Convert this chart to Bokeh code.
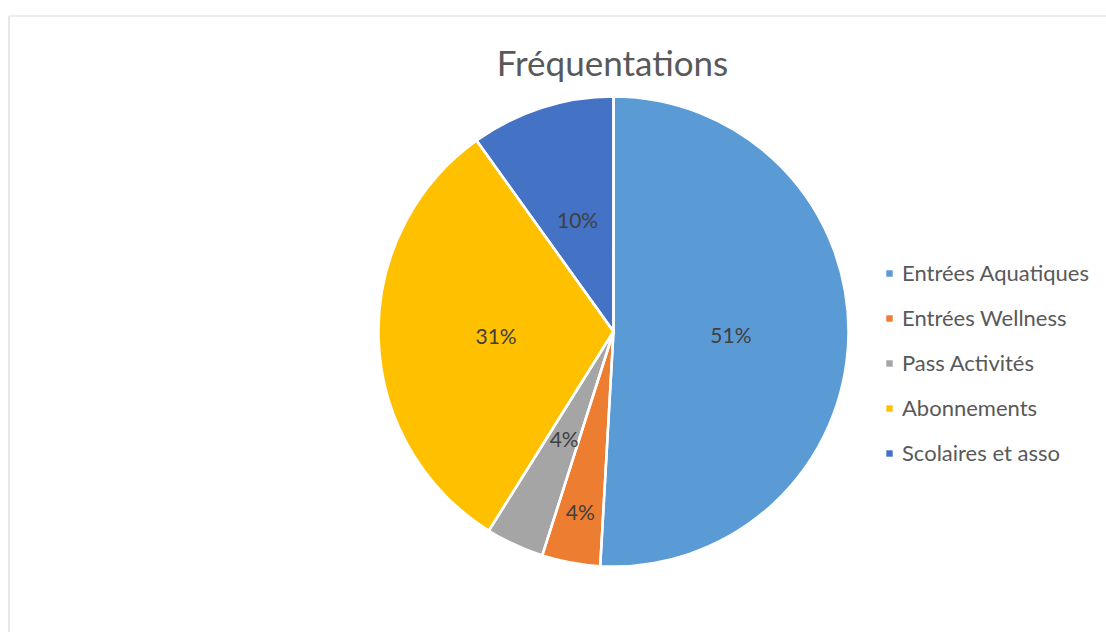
import math
from bokeh.plotting import figure
from bokeh.models import ColumnDataSource, Range1d, Legend, LegendItem, Label
from bokeh.core.properties import value
from bokeh.embed import file_html
from bokeh.resources import INLINE

# ---- data ----
categories = ["Entrées Aquatiques", "Entrées Wellness", "Pass Activités", "Abonnements", "Scolaires et asso"]
values = [50.9, 4.0, 4.0, 31.2, 9.9]
title_text = "Fréquentations"

# ---- style ----
colors = ["#5B9BD5", "#ED7D31", "#A5A5A5", "#FFC000", "#4472C4"]
label_radius_frac = [0.5, 0.78, 0.5, 0.5, 0.5]
FONT = "Lato"
W, H = 1106, 632
CX, CY, R = 613, 301, 235

total = sum(values)
starts, ends, lx, ly, texts = [], [], [], [], []
cum = 0.0
for v, f in zip(values, label_radius_frac):
    a0 = cum / total
    cum += v
    a1 = cum / total
    # Excel: start at 12 o'clock, clockwise
    starts.append(math.pi / 2 - a1 * 2 * math.pi)
    ends.append(math.pi / 2 - a0 * 2 * math.pi)
    mid = math.pi / 2 - (a0 + a1) / 2 * 2 * math.pi
    lx.append(CX + f * R * math.cos(mid))
    ly.append(CY + f * R * math.sin(mid))
    texts.append(f"{round(v / total * 100)}%")

src = ColumnDataSource(dict(cat=categories, val=values, start=starts, end=ends,
                            color=colors, lx=lx, ly=ly, txt=texts))

p = figure(width=W, height=H, output_backend="svg", toolbar_location=None,
           x_range=Range1d(0, W), y_range=Range1d(0, H),
           min_border=0, outline_line_color=None)
p.axis.visible = False
p.grid.visible = False
p.background_fill_color = "white"
p.border_fill_color = "white"

# chart-area border (left and top visible)
p.line(x=[8.5, 8.5, W], y=[0, H - 15.5, H - 15.5], line_color="#d9d9d9", line_width=1.2)

wedges = p.wedge(x=CX, y=CY, radius=R, start_angle="start", end_angle="end",
                 fill_color="color", line_color=None, source=src)
p.wedge(x=CX, y=CY, radius=R, start_angle="start", end_angle="end",
        fill_color=None, line_color="white", line_width=2.5, source=src)

p.text(x="lx", y="ly", text="txt", source=src, text_align="center", text_baseline="middle",
       text_font=value(FONT), text_font_size="21px", text_color="#404040")

p.add_layout(Label(x=CX - 1, y=H - 61, text=title_text, text_align="center",
                   text_baseline="middle", text_font=FONT, text_font_size="35px",
                   text_color="#595959"))

items = [LegendItem(label=c, renderers=[wedges], index=i) for i, c in enumerate(categories)]
legend = Legend(items=items, location=(885, 166), orientation="vertical",
                glyph_width=8, glyph_height=8, label_height=22, spacing=18,
                label_standoff=9, padding=0, margin=0, border_line_color=None,
                background_fill_alpha=0, label_text_font=FONT,
                label_text_font_size="22px", label_text_color="#595959")
p.add_layout(legend)

open("out.html", "w").write(file_html(p, INLINE))
